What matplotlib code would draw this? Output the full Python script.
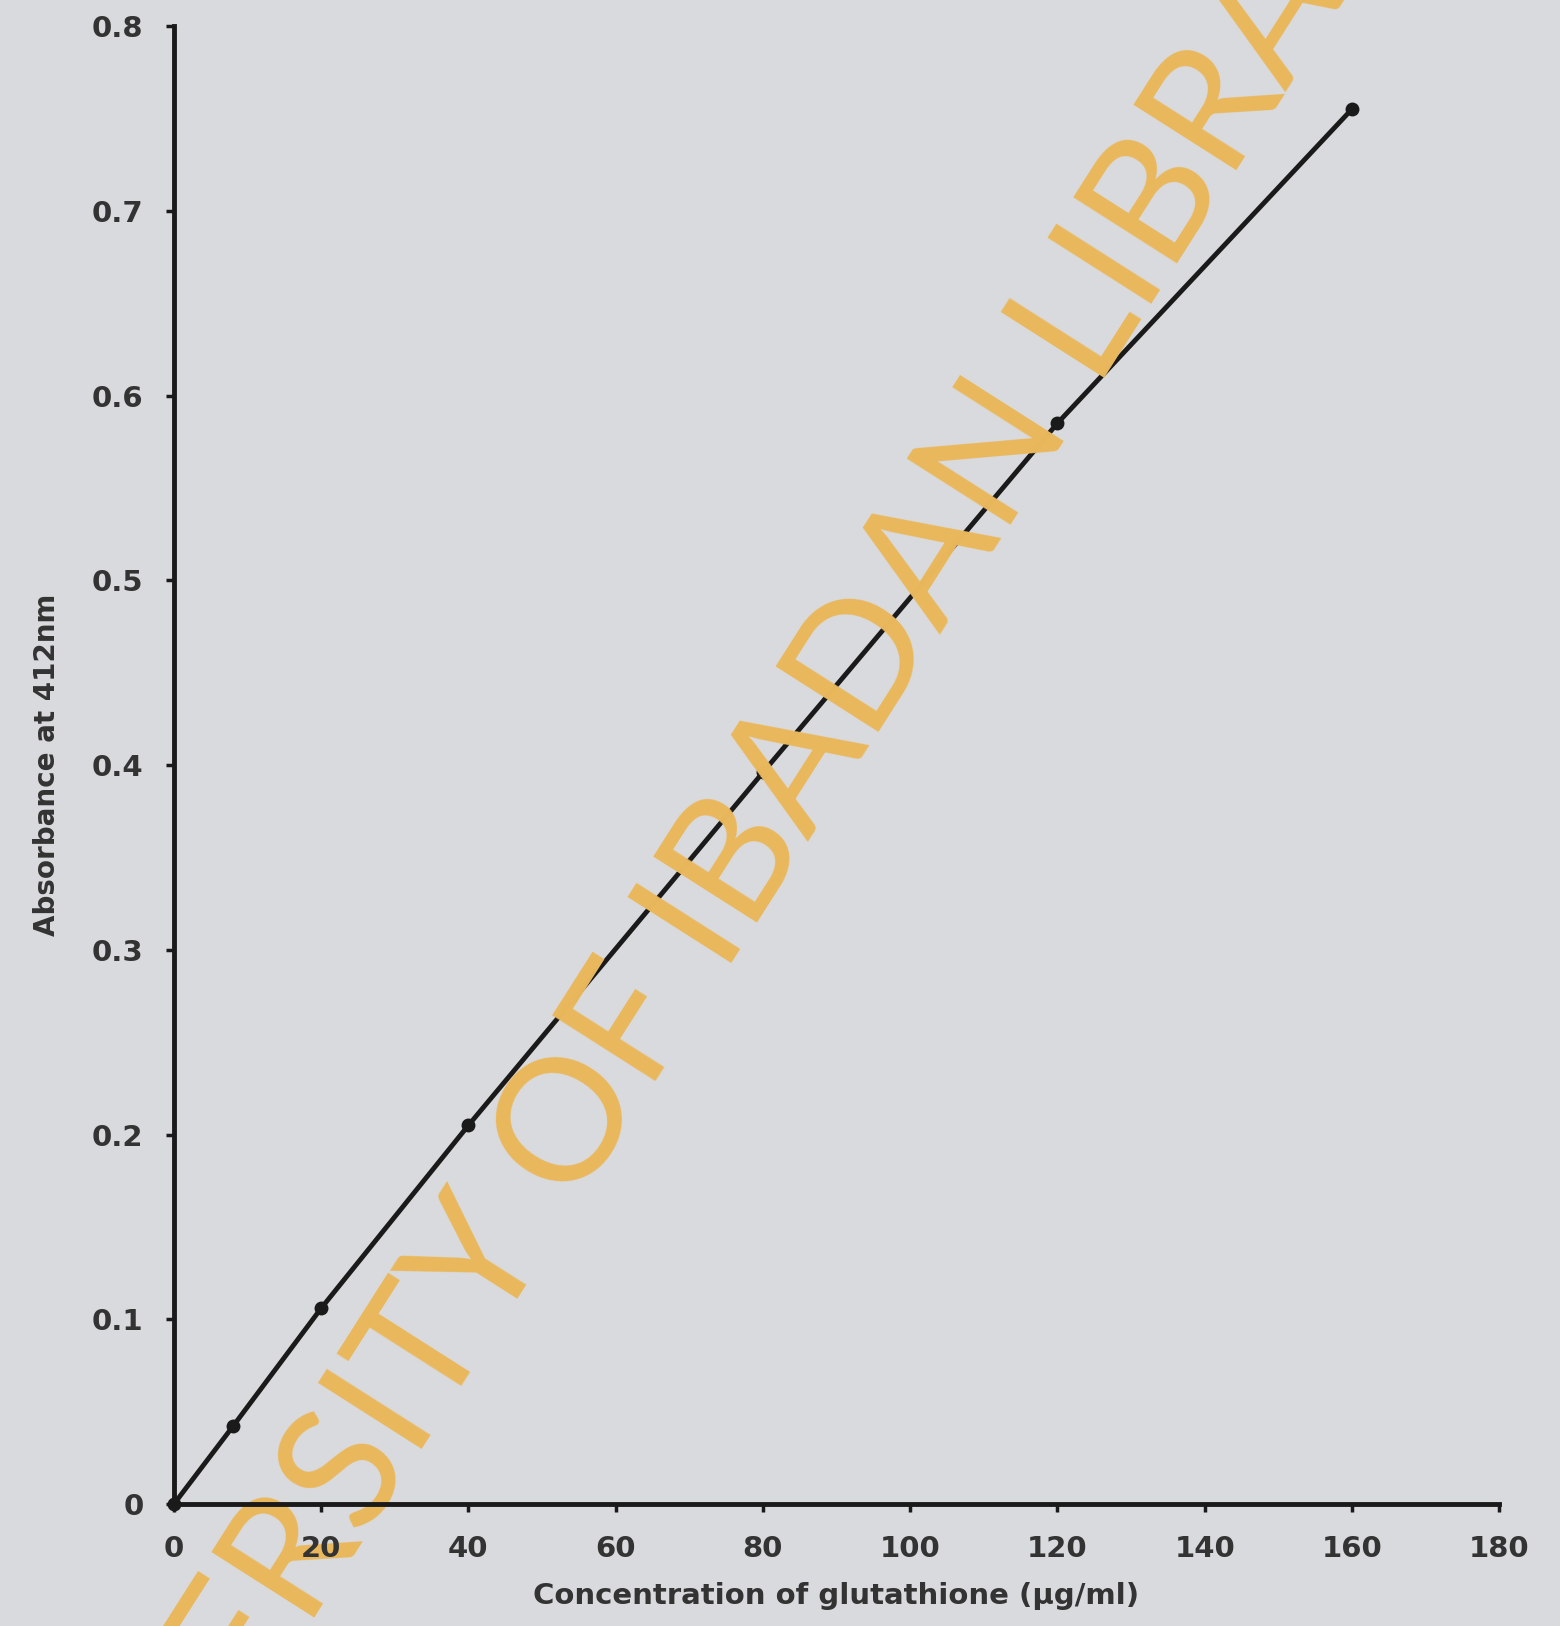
import matplotlib
matplotlib.use("Agg")
import matplotlib.pyplot as plt

# Data
concentration = [0, 8, 20, 40, 80, 120, 160]
absorbance = [0.0, 0.042, 0.106, 0.205, 0.396, 0.585, 0.755]
x_ticks = [0, 20, 40, 60, 80, 100, 120, 140, 160, 180]
x_tick_labels = ["0", "20", "40", "60", "80", "100", "120", "140", "160", "180"]
y_ticks = [0, 0.1, 0.2, 0.3, 0.4, 0.5, 0.6, 0.7, 0.8]
y_tick_labels = ["0", "0.1", "0.2", "0.3", "0.4", "0.5", "0.6", "0.7", "0.8"]
x_label = "Concentration of glutathione (\u03bcg/ml)"
y_label = "Absorbance at 412nm"
watermark = "UNIVERSITY OF IBADAN LIBRARY"

bg = "#d9dadd"
ink = "#1a1a1a"
label_col = "#333333"

fig = plt.figure(figsize=(15.6, 16.26), dpi=100, facecolor=bg)
ax = fig.add_axes([0.1115, 0.075, 0.8495, 0.909], facecolor=bg)
ax.set_axisbelow(False)

ax.plot(concentration, absorbance, color=ink, linewidth=3.5,
        marker="o", markersize=9, markerfacecolor=ink, markeredgecolor=ink,
        clip_on=False, zorder=2)

ax.set_xlim(0, 180)
ax.set_ylim(0, 0.8)
ax.set_xticks(x_ticks)
ax.set_xticklabels(x_tick_labels)
ax.set_yticks(y_ticks)
ax.set_yticklabels(y_tick_labels)

for s in ["top", "right"]:
    ax.spines[s].set_visible(False)
for s in ["left", "bottom"]:
    ax.spines[s].set_linewidth(3.5)
    ax.spines[s].set_color(ink)
    ax.spines[s].set_zorder(2.6)

ax.tick_params(axis="both", colors=ink, width=2.5, length=6, direction="out",
               labelcolor=label_col, labelsize=21)
ax.tick_params(axis="y", pad=16)
ax.tick_params(axis="x", pad=16)
for lab in ax.get_xticklabels() + ax.get_yticklabels():
    lab.set_fontweight("bold")

ax.set_xlabel(x_label, fontsize=21, fontweight="bold", color=label_col, labelpad=14)
ax.set_ylabel(y_label, fontsize=20, fontweight="bold", color=label_col, labelpad=22)

ax.text(0.452, 0.437, watermark, transform=fig.transFigure, clip_on=False,
        rotation=57.5, rotation_mode="anchor",
        ha="center", va="center", fontsize=123, color="#eab85c",
        family="Lato", fontweight="normal", zorder=2.2)

fig.savefig("out.png", dpi=100, facecolor=bg)
